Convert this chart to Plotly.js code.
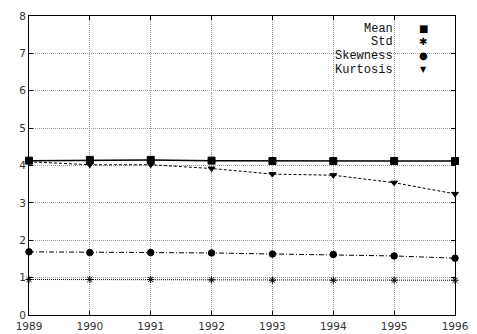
<!DOCTYPE html>
<html>
<head>
<meta charset="utf-8">
<script src="https://cdn.plot.ly/plotly-3.0.1.min.js"></script>
<style>
  html, body { margin: 0; padding: 0; background: #fff; }
  #chart { width: 477px; height: 334px; }
</style>
</head>
<body>
<div id="chart"></div>
<script>
// Yearly statistics of the series
const years = [1989, 1990, 1991, 1992, 1993, 1994, 1995, 1996];
const meanVals = [4.13, 4.15, 4.15, 4.13, 4.12, 4.12, 4.12, 4.12];
const stdVals = [0.95, 0.95, 0.95, 0.94, 0.93, 0.93, 0.93, 0.93];
const skewVals = [1.69, 1.67, 1.67, 1.66, 1.63, 1.62, 1.58, 1.52];
const kurtVals = [4.10, 4.02, 4.02, 3.92, 3.77, 3.74, 3.54, 3.24];
const seriesNames = ['Mean', 'Std', 'Skewness', 'Kurtosis'];
const legendGlyphs = ['\u25A0', '\u2731', '\u25CF', '\u25BC'];
const yTicks = [0, 1, 2, 3, 4, 5, 6, 7, 8];

function series(name, y, dash, symbol, size, width) {
  return {
    x: years, y: y, name: name, type: 'scatter', mode: 'lines+markers',
    line: { color: '#000', dash: dash, width: width },
    marker: { color: '#000', symbol: symbol, size: size,
              line: { color: '#000', width: 1 } },
    showlegend: false, cliponaxis: false
  };
}

const traces = [
  series(seriesNames[0], meanVals, 'solid', 'square', 7, 1.5),
  series(seriesNames[1], stdVals, '1px,1px', 'asterisk-open', 6, 1),
  series(seriesNames[2], skewVals, '5px,2px,1px,2px', 'circle', 6.5, 1),
  series(seriesNames[3], kurtVals, '3px,2px', 'triangle-down', 6, 1)
];

// Key in the upper right: right-aligned names with glyphs to their right
const annotations = [];
seriesNames.forEach((n, i) => {
  const yp = 1 - (12.3 + 13.7 * i) / 299;
  annotations.push({
    xref: 'paper', yref: 'paper', x: (394 - 29) / 426, y: yp,
    xanchor: 'right', yanchor: 'middle', showarrow: false, text: n,
    height: 11, borderpad: 0,
    font: { family: 'Liberation Mono, Courier New, monospace', size: 12, color: '#111' }
  });
  annotations.push({
    xref: 'paper', yref: 'paper', x: (423 - 29) / 426, y: yp,
    xanchor: 'center', yanchor: 'middle', showarrow: false, text: legendGlyphs[i],
    height: 11, borderpad: 0,
    font: { family: 'DejaVu Sans', size: i === 3 ? 8 : 10, color: '#000' }
  });
});

const axisCommon = {
  showline: true, linecolor: '#000', linewidth: 1, mirror: 'allticks',
  ticks: 'inside', ticklen: 4, tickcolor: '#000', tickwidth: 1,
  showgrid: true, gridcolor: '#9a9a9a', griddash: '1px,1px', gridwidth: 1,
  zeroline: false,
  tickfont: { family: 'DejaVu Sans, sans-serif', size: 10.5, color: '#333' }
};

const layout = {
  width: 477, height: 334,
  margin: { l: 29, r: 22, t: 16, b: 19, pad: 0 },
  paper_bgcolor: '#fff', plot_bgcolor: '#fff',
  showlegend: false,
  xaxis: Object.assign({}, axisCommon, {
    range: [1989, 1996], tickvals: years, ticktext: years.map(String),
    ticklabelstandoff: 1
  }),
  yaxis: Object.assign({}, axisCommon, {
    range: [0, 8], tickvals: yTicks, ticktext: yTicks.map(String)
  }),
  annotations: annotations
};

Plotly.newPlot('chart', traces, layout, { staticPlot: true, displayModeBar: false });
</script>
</body>
</html>
